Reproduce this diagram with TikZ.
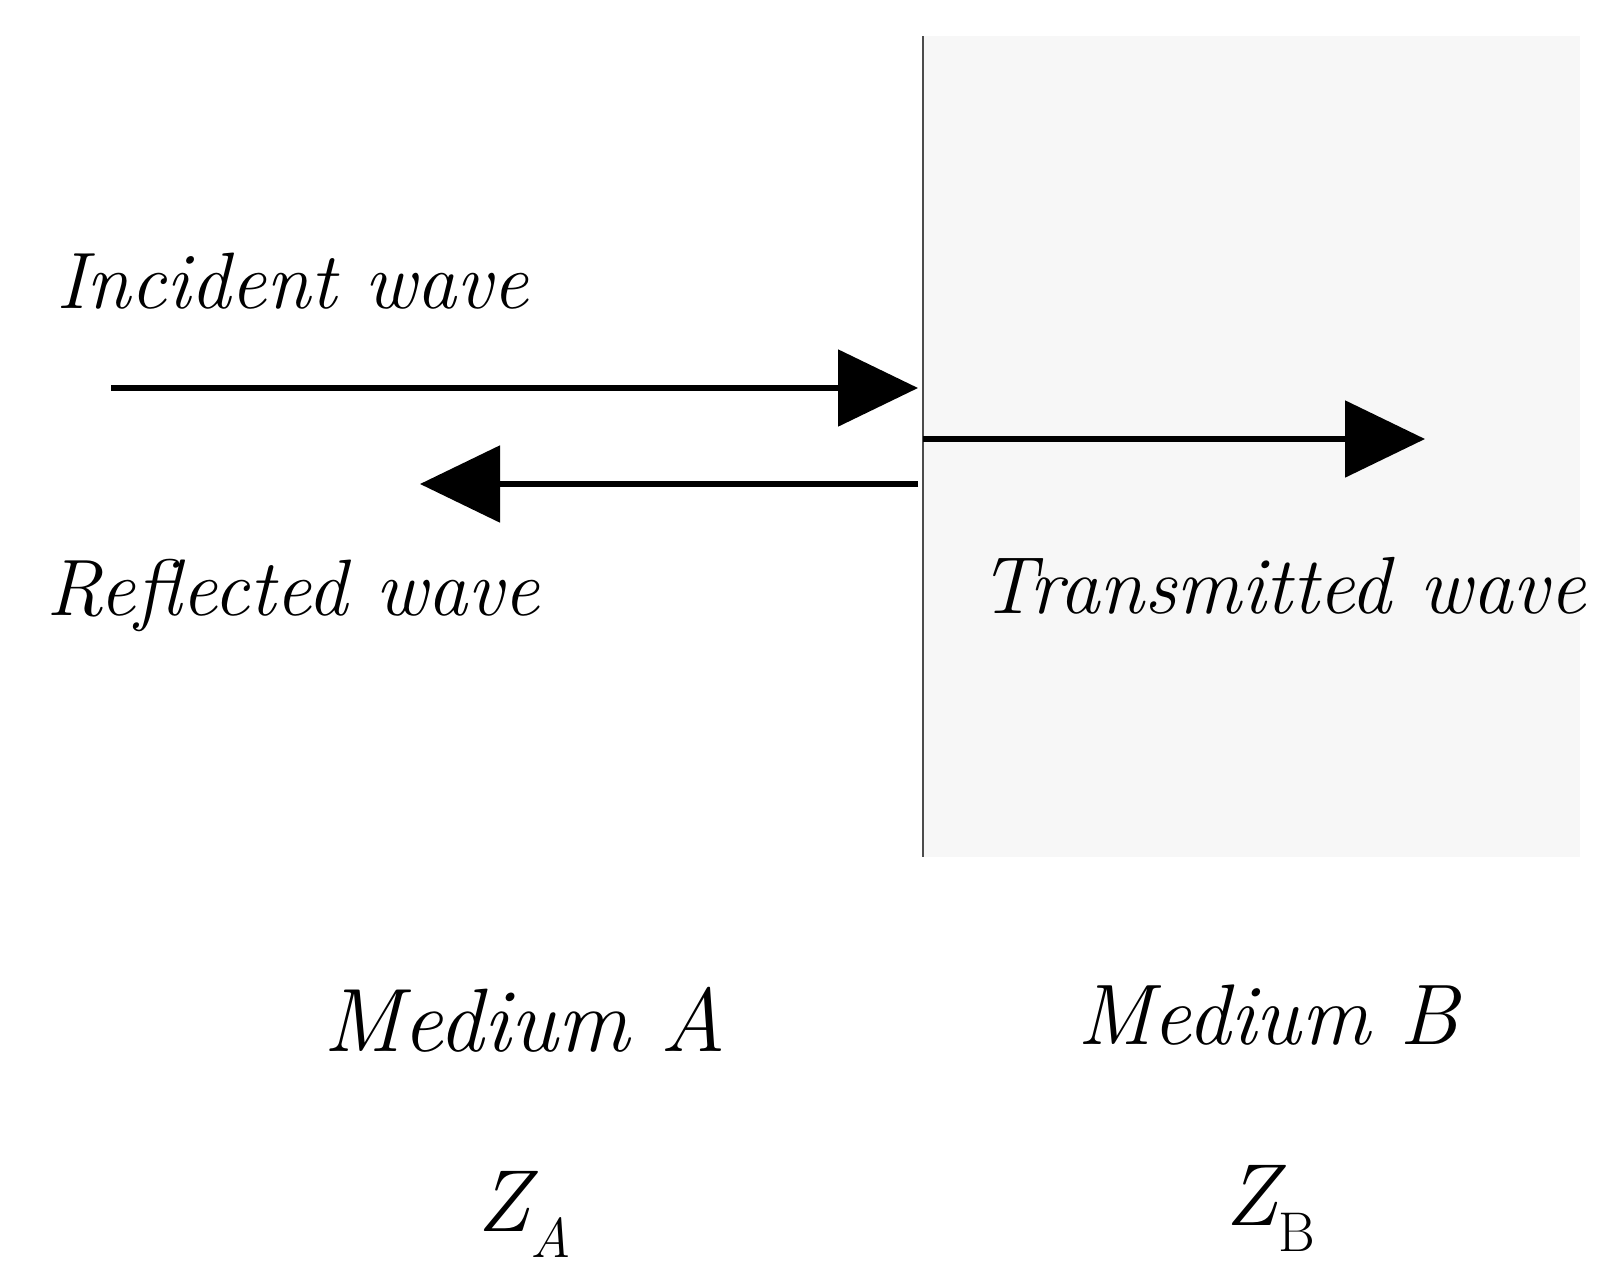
\documentclass[tikz,border=0pt]{standalone}
\usepackage{fontspec}
\usetikzlibrary{arrows.meta}
\begin{document}
\begin{tikzpicture}[x=1pt,y=-1pt,
  lbl/.style={anchor=base west, inner sep=0pt},
  wave/.style={line width=5.5pt, -{Triangle[length=80pt,width=76pt]}}]
\useasboundingbox (0,0) rectangle (1608,1269);
\fill[white] (0,0) rectangle (1608,1269);
\fill[black!3] (923,36) rectangle (1580,857);
\draw[line width=2pt, black!70] (923,36) -- (923,857);
\coordinate (iS) at (111,388);
\coordinate (iE) at (918,388);
\coordinate (rS) at (918,484);
\coordinate (rE) at (420,484);
\coordinate (tS) at (923,439);
\coordinate (tE) at (1425,439);
\draw[wave] (iS) -- (iE);
\draw[wave] (rS) -- (rE);
\draw[wave] (tS) -- (tE);
\node[lbl, font=\fontsize{80}{90}\selectfont\itshape] (inc) at (56,308) {Incident wave};
\node[lbl, font=\fontsize{80}{90}\selectfont\itshape] (ref) at (46,615) {Reflected wave};
\node[lbl, font=\fontsize{81}{90}\selectfont\itshape] (tra) at (979,613) {Transmitted wave};
\node[lbl, font=\fontsize{90}{90}\selectfont\itshape] (ma) at (323,1051) {Medium A};
\node[lbl, font=\fontsize{86}{90}\selectfont\itshape] (mb) at (1077,1044) {Medium B};
\node[lbl, font=\fontsize{88}{90}\selectfont\itshape] (za) at (477,1231) {Z\raisebox{-0.3em}{\fontsize{56}{60}\selectfont A}};
\node[lbl, font=\fontsize{88}{90}\selectfont\itshape] (zb) at (1225,1225) {Z\raisebox{-0.3em}{\fontsize{56}{60}\selectfont\upshape B}};
\end{tikzpicture}
\end{document}
